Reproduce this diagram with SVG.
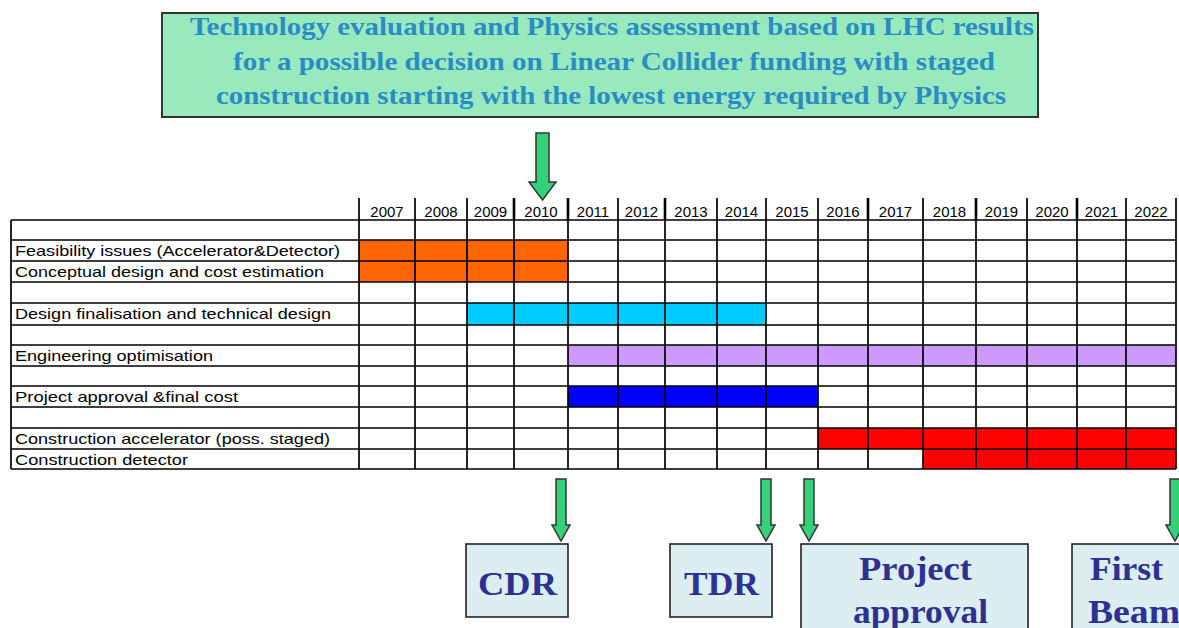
<svg xmlns="http://www.w3.org/2000/svg" width="1179" height="628" viewBox="0 0 1179 628">
<style>
.topt{font-family:"Liberation Serif","Times New Roman",serif;font-weight:bold;font-size:26px;fill:#2b8cc4;text-anchor:middle}
.yr{font-family:"Liberation Sans",Arial,sans-serif;font-size:15px;fill:#000;text-anchor:middle}
.lbl{font-family:"Liberation Sans",Arial,sans-serif;font-size:14.5px;fill:#000}
.grid{stroke:#000;stroke-width:1.7;fill:none}
.ms{fill:#dbeef1;stroke:#222;stroke-width:1.6}
.mt{font-family:"Liberation Serif","Times New Roman",serif;font-weight:bold;font-size:34px;fill:#2e3192}
.arr{fill:#35d179;stroke:#333;stroke-width:1.5;stroke-linejoin:miter}
</style>
<rect width="1179" height="628" fill="#fff"/>

<g id="goal">
<rect x="162" y="13" width="876" height="104" fill="#99e9bf" stroke="#333" stroke-width="2"/>
<text class="topt" x="612" y="35" textLength="844" lengthAdjust="spacingAndGlyphs">Technology evaluation and Physics assessment based on LHC results</text>
<text class="topt" x="614" y="70" textLength="762" lengthAdjust="spacingAndGlyphs">for a possible decision on Linear Collider funding with staged</text>
<text class="topt" x="611" y="104" textLength="790" lengthAdjust="spacingAndGlyphs">construction starting with the lowest energy required by Physics</text>
</g>

<g id="bars">
<rect x="359" y="240" width="209" height="42" fill="#ff6600"/>
<rect x="467" y="303" width="299" height="22" fill="#00ccff"/>
<rect x="568" y="345" width="608" height="21" fill="#cc99ff"/>
<rect x="568" y="386" width="250" height="21" fill="#0000ff"/>
<rect x="818" y="428" width="358" height="21" fill="#ff0000"/>
<rect x="923" y="449" width="253" height="20" fill="#ff0000"/>
</g>

<g id="schedule-grid">
<path class="grid" d="M11 220H1176 M11 240H1176 M11 261H1176 M11 282H1176 M11 303H1176 M11 325H1176 M11 345H1176 M11 366H1176 M11 386H1176 M11 407H1176 M11 428H1176 M11 449H1176 M11 469H1176 M11 220V469 M359 198V469 M415 198V469 M467 198V469 M514 198V469 M568 198V469 M618 198V469 M665 198V469 M717 198V469 M766 198V469 M818 198V469 M868 198V469 M923 198V469 M976 198V469 M1027 198V469 M1077 198V469 M1126 198V469 M1176 198V469"/>
<path stroke="#000" stroke-width="2.6" d="M514 198V220 M568 198V220 M665 198V220 M868 198V220 M976 198V220 M1077 198V220"/>
</g>

<g id="years">
<text class="yr" x="387" y="217">2007</text>
<text class="yr" x="441" y="217">2008</text>
<text class="yr" x="490.5" y="217">2009</text>
<text class="yr" x="541" y="217">2010</text>
<text class="yr" x="593" y="217">2011</text>
<text class="yr" x="641.5" y="217">2012</text>
<text class="yr" x="691" y="217">2013</text>
<text class="yr" x="741.5" y="217">2014</text>
<text class="yr" x="792" y="217">2015</text>
<text class="yr" x="843" y="217">2016</text>
<text class="yr" x="895.5" y="217">2017</text>
<text class="yr" x="949.5" y="217">2018</text>
<text class="yr" x="1001.5" y="217">2019</text>
<text class="yr" x="1052" y="217">2020</text>
<text class="yr" x="1101.5" y="217">2021</text>
<text class="yr" x="1151" y="217">2022</text>
</g>

<g id="tasks">
<text class="lbl" x="15" y="256" textLength="325" lengthAdjust="spacingAndGlyphs">Feasibility issues (Accelerator&amp;Detector)</text>
<text class="lbl" x="15" y="277" textLength="309" lengthAdjust="spacingAndGlyphs">Conceptual design and cost estimation</text>
<text class="lbl" x="15" y="319" textLength="316" lengthAdjust="spacingAndGlyphs">Design finalisation and technical design</text>
<text class="lbl" x="15" y="361" textLength="198" lengthAdjust="spacingAndGlyphs">Engineering optimisation</text>
<text class="lbl" x="15" y="402" textLength="223" lengthAdjust="spacingAndGlyphs">Project approval &amp;final cost</text>
<text class="lbl" x="15" y="444" textLength="315" lengthAdjust="spacingAndGlyphs">Construction accelerator (poss. staged)</text>
<text class="lbl" x="15" y="465" textLength="173" lengthAdjust="spacingAndGlyphs">Construction detector</text>
</g>

<g id="cdr">
<rect class="ms" x="466" y="544" width="102" height="73"/>
<text class="mt" x="478" y="595" textLength="79" lengthAdjust="spacingAndGlyphs">CDR</text>
</g>
<g id="tdr">
<rect class="ms" x="670" y="544" width="102" height="73"/>
<text class="mt" x="684" y="595" textLength="75" lengthAdjust="spacingAndGlyphs">TDR</text>
</g>
<g id="project-approval">
<rect class="ms" x="801" y="544" width="227" height="100"/>
<text class="mt" x="859" y="580" textLength="113" lengthAdjust="spacingAndGlyphs">Project</text>
<text class="mt" x="853" y="623" textLength="135" lengthAdjust="spacingAndGlyphs">approval</text>
</g>
<g id="first-beam">
<rect class="ms" x="1072" y="544" width="140" height="100"/>
<text class="mt" x="1090" y="580" textLength="73" lengthAdjust="spacingAndGlyphs">First</text>
<text class="mt" x="1088" y="623" textLength="92" lengthAdjust="spacingAndGlyphs">Beam</text>
</g>

<g id="connectors">
<path class="arr" d="M536 133H549V182H556L542.5 200L529 182H536Z"/>
<path class="arr" d="M556 479H566V525H570L561 541L552 525H556Z"/>
<path class="arr" d="M761 479H771V525H775L766 541L757 525H761Z"/>
<path class="arr" d="M804 479H814V525H818L809 541L800 525H804Z"/>
<path class="arr" d="M1170 479H1180V525H1184L1175 541L1166 525H1170Z"/>
</g>
</svg>
